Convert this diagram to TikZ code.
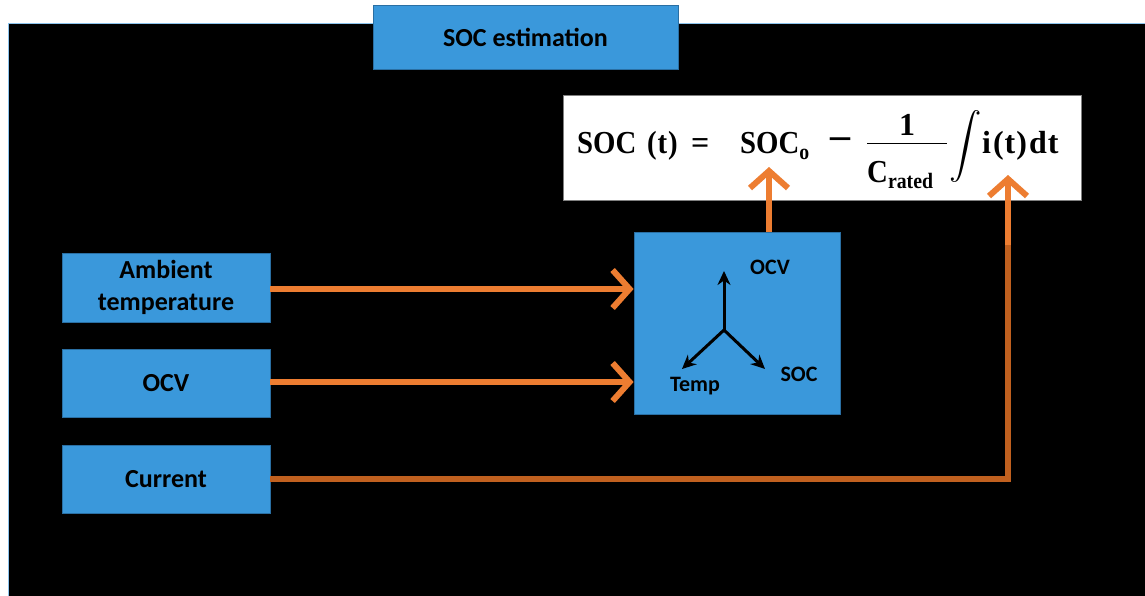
\documentclass[tikz,border=0pt]{standalone}
\usepackage{amsmath}
\usepackage{graphicx}
\usepackage{fontspec}
\newfontfamily\calibri{Carlito}
\newfontfamily\eqfont{Liberation Serif}
\usetikzlibrary{arrows.meta}
\definecolor{boxblue}{HTML}{3A98DB}
\definecolor{boxedge}{HTML}{2A6FA3}
\definecolor{arrorange}{HTML}{ED7D31}
\definecolor{arrbrown}{HTML}{C0601F}
\definecolor{framecol}{HTML}{8CC4EE}
\newcommand{\eqsub}[1]{\raisebox{-6pt}{\fontsize{22}{24}\selectfont #1}}
\newcommand{\eqs}[1]{\scalebox{0.9}[1]{#1}}
\tikzset{
  bluebox/.style={fill=boxblue, draw=boxedge, line width=0.8pt, text=black,
    font=\calibri\bfseries\fontsize{26}{32}\selectfont, align=center, inner sep=0pt},
  flow/.style={draw=arrorange, line width=6pt,
    -{Straight Barb[length=17pt,width=38pt,line width=6pt]}},
  feed/.style={draw=arrbrown, line width=6pt, line join=miter},
  axis/.style={line width=3pt, -{Stealth[length=14pt,width=13pt]}},
  axlabel/.style={font=\calibri\bfseries\fontsize{22}{24}\selectfont, text=black, inner sep=0pt},
  eqpart/.style={anchor=base west, inner sep=0pt, text=black, font=\eqfont\bfseries\fontsize{32}{36}\selectfont}
}
\begin{document}
\begin{tikzpicture}[x=1pt,y=-1pt]
\useasboundingbox (0,0) rectangle (1145,595);
\fill[white] (0,0) rectangle (1145,595);
\fill[black] (8,23) rectangle (1146,596);
\draw[framecol, line width=0.8pt] (8,596) -- (8,23) -- (1146,23);

\node[bluebox, minimum width=305pt, minimum height=64pt] (title) at (525.5,37) {SOC estimation};
\node[bluebox, minimum width=208pt, minimum height=69pt] (ambient) at (166,287.5) {Ambient\\temperature};
\node[bluebox, minimum width=208pt, minimum height=68pt] (ocv) at (166,383) {OCV};
\node[bluebox, minimum width=208pt, minimum height=68pt] (current) at (166,479) {Current};
\node[bluebox, minimum width=206pt, minimum height=182pt] (mid) at (737,323) {};

% formula
\node[fill=white, draw=gray, line width=0.8pt, minimum width=518pt, minimum height=105pt] (formula) at (822,147.5) {};
\node[eqpart] (eqa) at (577,153) {\eqs{SOC}};
\node[eqpart] (eqb) at (647,153) {\eqs{(\hspace{1pt}t\hspace{1pt})}};
\node[eqpart] (eqc) at (691,153) {=};
\node[eqpart] (eqd) at (740,153) {\eqs{SOC\eqsub{o}}};
\node[eqpart, anchor=center] (eqe) at (840,143) {\resizebox{20pt}{!}{–}};
\node[eqpart, anchor=base] (eqf) at (907,135) {1};
\node[eqpart] (eqg) at (867,182) {\eqs{C\eqsub{rated}}};
\draw[line width=1.8pt] (867,143.5) -- (947,143.5);
\node[eqpart, anchor=center] (eqh) at (966,146) {\resizebox*{!}{72pt}{$\displaystyle\int$}};
\node[eqpart] (eqi) at (982,153) {i\hspace{2pt}(\hspace{1pt}t\hspace{1pt})\hspace{2pt}d\hspace{1pt}t};

% inner axes
\coordinate (o) at (724,330);
\node[axlabel] (lo) at (770,267) {OCV};
\node[axlabel] (ls) at (799,374) {SOC};
\node[axlabel] (lt) at (695,386) {Temp};
\coordinate (ao) at (724,271);
\coordinate (as) at (765,369);
\coordinate (atm) at (682,369);
\draw[axis] (o) -- (ao);
\draw[axis] (o) -- (as);
\draw[axis] (o) -- (atm);

% connectors
\coordinate (soctip) at (769,167);
\coordinate (bend) at (1008,479);
\coordinate (join) at (1008,245);
\coordinate (itip) at (1008,175);
\draw[flow] (ambient.east |- 0,289) -- (mid.west |- 0,289);
\draw[flow] (ocv.east |- 0,382) -- (mid.west |- 0,382);
\draw[flow] (mid.north -| soctip) -- (soctip);
\draw[feed] (current.east |- bend) -- (bend) -- (join);
\draw[flow] (join) -- (itip);
\end{tikzpicture}
\end{document}
